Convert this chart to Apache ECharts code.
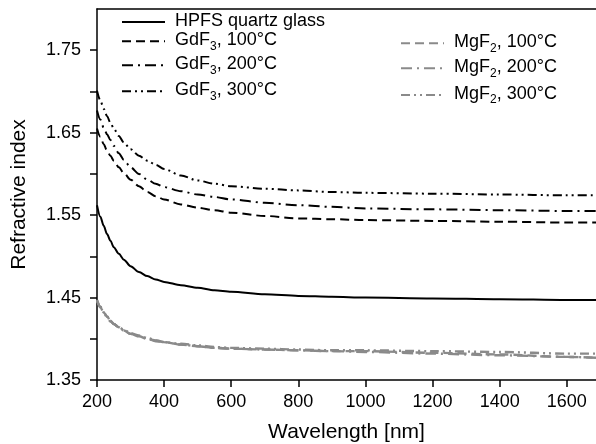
<!DOCTYPE html>
<html>
<head>
<meta charset="utf-8">
<script src="https://cdn.jsdelivr.net/npm/echarts@6/dist/echarts.min.js"></script>
<style>html,body{margin:0;padding:0;background:#fff;}#c{width:596px;height:444px;}</style>
</head>
<body>
<div id="c"></div>
<script>
var wavelengths = [200, 210, 220, 230, 240, 250, 265, 280, 300, 325, 350, 375, 400, 450, 500, 550, 600, 700, 800, 900, 1000, 1200, 1400, 1600, 1687];
var hpfs      = [1.562, 1.548, 1.537, 1.527, 1.519, 1.511, 1.503, 1.496, 1.488, 1.481, 1.476, 1.472, 1.469, 1.465, 1.462, 1.459, 1.457, 1.454, 1.452, 1.451, 1.450, 1.449, 1.448, 1.447, 1.447];
var gdf3_100  = [1.655, 1.645, 1.636, 1.628, 1.622, 1.616, 1.608, 1.601, 1.593, 1.585, 1.578, 1.573, 1.569, 1.563, 1.559, 1.556, 1.553, 1.549, 1.546, 1.545, 1.544, 1.543, 1.542, 1.541, 1.541];
var gdf3_200  = [1.677, 1.666, 1.656, 1.648, 1.641, 1.634, 1.625, 1.617, 1.608, 1.600, 1.593, 1.588, 1.584, 1.579, 1.575, 1.572, 1.569, 1.565, 1.562, 1.560, 1.558, 1.557, 1.556, 1.555, 1.555];
var gdf3_300  = [1.701, 1.689, 1.679, 1.670, 1.662, 1.655, 1.646, 1.638, 1.630, 1.622, 1.616, 1.611, 1.606, 1.598, 1.592, 1.588, 1.585, 1.582, 1.580, 1.578, 1.577, 1.576, 1.575, 1.574, 1.574];
var mgf2_100  = [1.447, 1.439, 1.432, 1.427, 1.422, 1.418, 1.414, 1.410, 1.406, 1.403, 1.400, 1.398, 1.396, 1.393, 1.391, 1.389, 1.388, 1.387, 1.386, 1.385, 1.385, 1.383, 1.381, 1.378, 1.377];
var mgf2_200  = [1.446, 1.438, 1.432, 1.426, 1.421, 1.418, 1.414, 1.410, 1.406, 1.403, 1.400, 1.397, 1.396, 1.393, 1.391, 1.389, 1.388, 1.387, 1.386, 1.385, 1.384, 1.382, 1.380, 1.378, 1.377];
var mgf2_300  = [1.447, 1.439, 1.432, 1.427, 1.422, 1.418, 1.414, 1.411, 1.407, 1.404, 1.401, 1.398, 1.396, 1.394, 1.392, 1.390, 1.389, 1.388, 1.387, 1.386, 1.386, 1.385, 1.384, 1.382, 1.382];
var xTicks = [200, 400, 600, 800, 1000, 1200, 1400, 1600];
var yTicks = [1.35, 1.40, 1.45, 1.50, 1.55, 1.60, 1.65, 1.70, 1.75];
var yLabels = [1.35, 1.45, 1.55, 1.65, 1.75];

var names = ['HPFS quartz glass', 'GdF3, 100°C', 'GdF3, 200°C', 'GdF3, 300°C', 'MgF2, 100°C', 'MgF2, 200°C', 'MgF2, 300°C'];
var seriesData = [hpfs, gdf3_100, gdf3_200, gdf3_300, mgf2_100, mgf2_200, mgf2_300];

var BLACK = '#000000', GRAY = '#8a8a8a';
var styles = [
  {color: BLACK, type: 'solid', width: 2},
  {color: BLACK, type: [9, 5], width: 2},
  {color: BLACK, type: [11, 5, 2, 5], width: 2},
  {color: BLACK, type: [9, 4, 2, 4, 2, 4], width: 2},
  {color: GRAY, type: [9, 5], width: 2.4},
  {color: GRAY, type: [11, 5, 2, 5], width: 2.4},
  {color: GRAY, type: [9, 4, 2, 4, 2, 4], width: 2.4}
];

function pairs(ys) { return wavelengths.map(function (w, i) { return [w, ys[i]]; }); }

var series = names.map(function (n, i) {
  return {
    name: n, type: 'line', data: pairs(seriesData[i]), symbol: 'none', showSymbol: false,
    smooth: 0.3, smoothMonotone: 'x',
    lineStyle: {color: styles[i].color, type: styles[i].type, width: styles[i].width, cap: 'butt'},
    itemStyle: {color: styles[i].color},
    z: 10 - i
  };
});

function fmt(name) {
  var m = name.match(/^(GdF|MgF)(\d)(.*)$/);
  if (m) return '{n|' + m[1] + '}{s|' + m[2] + '}{n|' + m[3] + '}';
  return '{n|' + name + '}';
}
var rich = {
  n: {fontSize: 18, fontFamily: 'Liberation Sans, Arial, sans-serif', color: '#000', verticalAlign: 'top', lineHeight: 20},
  s: {fontSize: 12, fontFamily: 'Liberation Sans, Arial, sans-serif', color: '#000', verticalAlign: 'top', lineHeight: 12, padding: [9, 0, 0, 0]}
};
var legendPos = [[121, 22], [121, 41.3], [121, 65.3], [121, 91.3], [400, 43.3], [400, 68.3], [400, 95]];
var legends = names.map(function (n, i) {
  return {
    data: [n], left: legendPos[i][0], top: legendPos[i][1] - 10, padding: 0, itemGap: 0,
    itemWidth: 43, itemHeight: 14,
    itemStyle: {color: 'transparent', borderColor: 'transparent', borderWidth: 0, opacity: 0},
    textStyle: {rich: rich, padding: [0, 0, 0, 5]},
    formatter: fmt, selectedMode: false
  };
});

var chart = echarts.init(document.getElementById('c'), null, {renderer: 'canvas'});
chart.setOption({
  animation: false,
  backgroundColor: '#fff',
  textStyle: {fontFamily: 'Liberation Sans, Arial, sans-serif'},
  grid: {left: 97, right: 0, top: 9, bottom: 64, outerBoundsMode: 'none', containLabel: false},
  legend: legends,
  xAxis: [{
    type: 'value', min: 200, max: 1687, interval: 200,
    name: 'Wavelength [nm]', nameLocation: 'middle', nameGap: 42,
    nameTextStyle: {fontSize: 21, color: '#000'},
    axisLine: {show: true, lineStyle: {color: '#000', width: 1.5}},
    axisTick: {show: true, length: 7, lineStyle: {color: '#000', width: 1.5}, customValues: xTicks},
    axisLabel: {fontSize: 18, color: '#000', margin: 13, customValues: xTicks,
      formatter: function (v) { return String(v); }},
    splitLine: {show: false}
  }, {
    type: 'value', position: 'top', min: 200, max: 1687,
    axisLine: {show: true, onZero: false, lineStyle: {color: '#000', width: 1.5}},
    axisTick: {show: false}, axisLabel: {show: false}, splitLine: {show: false}
  }],
  yAxis: {
    type: 'value', min: 1.35, max: 1.80, interval: 0.05,
    name: 'Refractive index', nameLocation: 'middle', nameGap: 67,
    nameTextStyle: {fontSize: 21, color: '#000'},
    axisLine: {show: true, lineStyle: {color: '#000', width: 1.5}},
    axisTick: {show: true, length: 7, lineStyle: {color: '#000', width: 1.5}, customValues: yTicks},
    axisLabel: {fontSize: 18, color: '#000', margin: 16, customValues: yLabels,
      formatter: function (v) { return v.toFixed(2); }},
    splitLine: {show: false}
  },
  series: series
});
</script>
</body>
</html>
